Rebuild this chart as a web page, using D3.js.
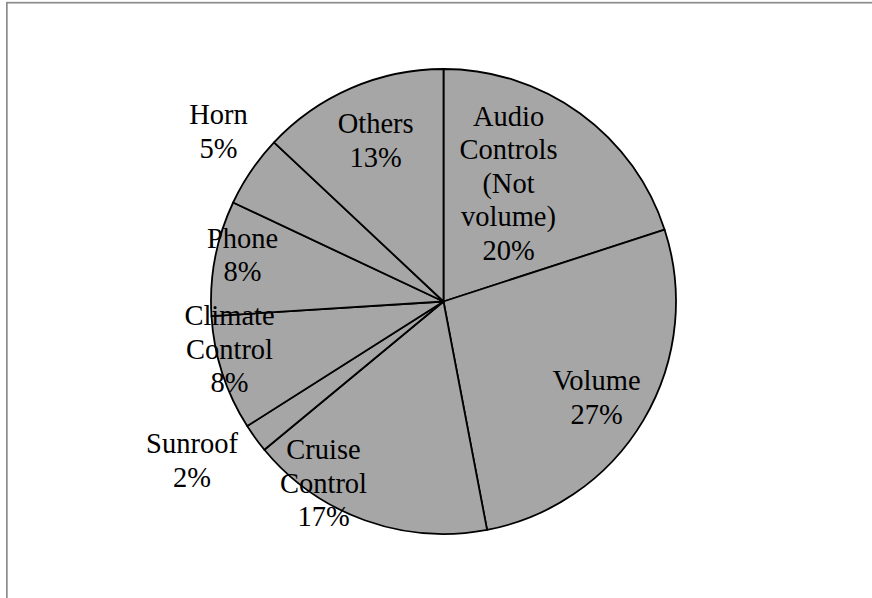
<!DOCTYPE html>
<html>
<head>
<meta charset="utf-8">
<script src="https://cdn.jsdelivr.net/npm/d3@7/dist/d3.min.js"></script>
<style>
  html, body { margin: 0; padding: 0; background: #fff; }
  svg { display: block; }
  text { font-family: "Liberation Serif", "Times New Roman", serif; fill: #000; }
</style>
</head>
<body>
<svg id="chart" width="872" height="598"></svg>
<script>
// Share of control usage, clockwise from 12 o'clock
const categories = [
  "Audio Controls (Not volume)",
  "Volume",
  "Cruise Control",
  "Sunroof",
  "Climate Control",
  "Phone",
  "Horn",
  "Others"
];
const shares = [20, 27, 17, 2, 8, 8, 5, 13];

// Label anchors (center x, first baseline) relative to the pie centre
const labelOffsets = [
  [65, -175.8],
  [153, 88.5],
  [-120, 157.8],
  [-251.5, 151.8],
  [-214, 23.5],
  [-201, -53.8],
  [-225, -177.2],
  [-67.8, -168.2]
];

const W = 872, H = 598;
const cx = 443.5, cy = 301.5, R = 232.5;
const fontSize = 28.5, lineH = 33.5, wrapWidth = 110;

const svg = d3.select("#chart");

// chart-area frame (runs off the right and bottom edges)
svg.append("rect")
  .attr("x", 6.85).attr("y", 2.7)
  .attr("width", 1000).attr("height", 1000)
  .attr("fill", "none")
  .attr("stroke", "#8c8c8c")
  .attr("stroke-width", 1.7);

const data = categories.map((c, i) => ({ name: c, value: shares[i], off: labelOffsets[i] }));

const pie = d3.pie().sort(null).value(d => d.value);
const arc = d3.arc().innerRadius(0).outerRadius(R);

const g = svg.append("g").attr("transform", `translate(${cx},${cy})`);

g.selectAll("path.slice")
  .data(pie(data))
  .join("path")
  .attr("class", "slice")
  .attr("d", arc)
  .attr("fill", "#a6a6a6")
  .attr("stroke", "#000")
  .attr("stroke-width", 1.8)
  .attr("stroke-linejoin", "round");

// measure words to wrap names like a text box would
const measure = svg.append("text").attr("font-size", fontSize).attr("visibility", "hidden");
function textWidth(s) { measure.text(s); return measure.node().getComputedTextLength(); }
function wrap(name) {
  const words = name.split(" ");
  const lines = [];
  let cur = "";
  words.forEach(w => {
    const t = cur ? cur + " " + w : w;
    if (cur && textWidth(t) > wrapWidth) { lines.push(cur); cur = w; }
    else cur = t;
  });
  if (cur) lines.push(cur);
  return lines;
}

const fmt = d3.format(".0%");
const labels = g.selectAll("text.label")
  .data(data)
  .join("text")
  .attr("class", "label")
  .attr("font-size", fontSize)
  .attr("text-anchor", "middle");

labels.each(function(d) {
  const lines = wrap(d.name).concat([fmt(d.value / 100)]);
  d3.select(this).selectAll("tspan")
    .data(lines)
    .join("tspan")
    .attr("x", d.off[0])
    .attr("y", (l, i) => d.off[1] + i * lineH)
    .text(l => l);
});
measure.remove();
</script>
</body>
</html>
